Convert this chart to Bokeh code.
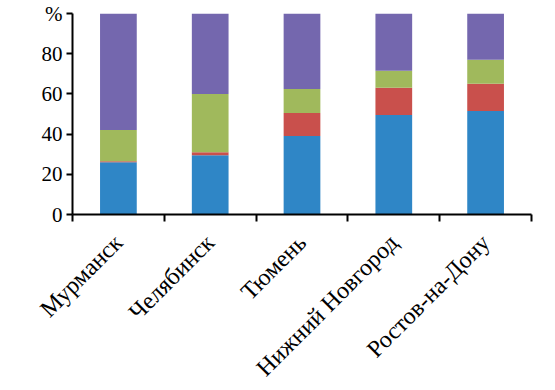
import math
from bokeh.plotting import figure
from bokeh.models import FixedTicker, ColumnDataSource, Range1d
from bokeh.embed import file_html
from bokeh.resources import INLINE

cities = ["Мурманск", "Челябинск", "Тюмень", "Нижний Новгород", "Ростов-на-Дону"]
blue = [26, 29.5, 39, 49.5, 51.5]
red = [0.5, 1.5, 11.5, 13.5, 13.5]
green = [15.5, 29, 12, 8.5, 12]
purple = [58, 40, 37.5, 28.5, 23]
y_ticks = [0, 20, 40, 60, 80, 100]

series = ["blue", "red", "green", "purple"]
colors = ["#2F86C6", "#C9504C", "#A0B95C", "#7467AE"]

xs = [i + 0.5 for i in range(len(cities))]
src = ColumnDataSource(dict(x=xs, blue=blue, red=red, green=green, purple=purple))

p = figure(frame_width=459, frame_height=201, output_backend="svg", toolbar_location=None,
           x_range=Range1d(0, len(cities)), y_range=Range1d(0, 100),
           min_border_left=72, min_border_right=14, min_border_top=13, min_border_bottom=0)
p.vbar_stack(series, x="x", width=0.4, color=colors, line_width=0, source=src)

p.grid.visible = False
p.outline_line_color = None
p.background_fill_color = "white"
p.border_fill_color = "white"

font = "Liberation Serif"
p.yaxis.ticker = FixedTicker(ticks=y_ticks)
p.yaxis.major_label_overrides = {100: "%"}
p.yaxis.major_label_text_font = font
p.yaxis.major_label_text_font_size = "21px"
p.yaxis.major_label_text_color = "black"
p.yaxis.axis_line_width = 2
p.yaxis.major_tick_line_width = 2
p.yaxis.major_tick_out = 6
p.yaxis.major_tick_in = 0
p.yaxis.minor_tick_line_color = None
p.yaxis.axis_line_color = "black"
p.yaxis.major_label_standoff = 4

p.xaxis.ticker = FixedTicker(ticks=xs, minor_ticks=list(range(len(cities) + 1)))
p.xaxis.major_label_overrides = {x: c for x, c in zip(xs, cities)}
p.xaxis.major_label_orientation = math.pi / 4
p.xaxis.major_label_text_font = font
p.xaxis.major_label_text_font_size = "24px"
p.xaxis.major_label_text_color = "black"
p.xaxis.major_tick_line_color = None
p.xaxis.minor_tick_line_color = "black"
p.xaxis.minor_tick_line_width = 2
p.xaxis.minor_tick_out = 7
p.xaxis.minor_tick_in = 0
p.xaxis.axis_line_width = 2
p.xaxis.axis_line_color = "black"
p.xaxis.major_label_standoff = 17

open("out.html", "w").write(file_html(p, INLINE))
